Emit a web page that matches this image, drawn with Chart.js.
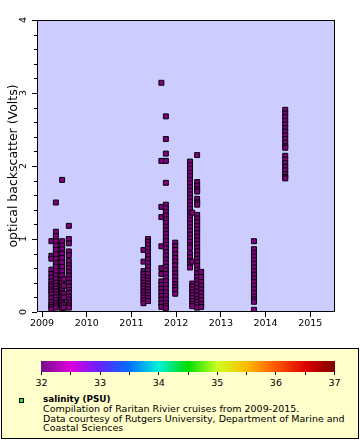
<!DOCTYPE html>
<html>
<head>
<meta charset="utf-8">
<script src="https://cdn.jsdelivr.net/npm/chart.js@4/dist/chart.umd.min.js"></script>
<style>
  html, body { margin:0; padding:0; background:#fff; }
  body { width:360px; height:440px; position:relative; overflow:hidden; font-family:"DejaVu Sans", sans-serif; }
  #wrap { position:absolute; left:0; top:0; width:360px; height:345px; }
  #legend { position:absolute; left:1px; top:348px; width:356px; height:89px; border:1px solid #000; background:#FFFFCC; box-sizing:content-box; }
  #cbar { position:absolute; left:41px; top:361px; width:294px; height:11px; }
  .cbtick { position:absolute; top:372px; width:1px; height:3px; background:#000; }
  .cblab { position:absolute; top:377px; width:30px; margin-left:-15px; text-align:center; font-size:9.5px; line-height:11px; color:#000; }
  #marker { position:absolute; left:19px; top:398px; width:3px; height:3px; border:1px solid #000; background:#22ee22; }
  #ltext { position:absolute; left:43px; top:394px; font-size:9.5px; line-height:9.3px; color:#000; white-space:nowrap; }
  #ltext b { font-size:8.8px; }
</style>
</head>
<body>
<div id="wrap"><canvas id="c"></canvas></div>
<div id="legend"></div>
<div id="cbar"></div>
<div id="marker"></div>
<div id="ltext"><b>salinity (PSU)</b><br>Compilation of Raritan Rivier cruises from 2009-2015.<br>Data courtesy of Rutgers University, Department of Marine and<br>Coastal Sciences</div>
<script>
// ---- data (decimal year of each cruise column, optical backscatter in Volts) ----
const cruiseTimes = [2009.21, 2009.31, 2009.45, 2009.49, 2009.60,
                     2011.27, 2011.37, 2011.67, 2011.77, 2011.98,
                     2012.31, 2012.36, 2012.47, 2012.56,
                     2013.74, 2014.44];
const c2009a = [0.97, 0.77, 0.73, 0.58, 0.52, 0.47, 0.42, 0.38, 0.35, 0.31, 0.28, 0.24, 0.19, 0.14, 0.10, 0.07, 0.04];
const c2009b = [1.50, 1.10, 1.04, 0.97, 0.91, 0.85, 0.79, 0.73, 0.67, 0.62, 0.56, 0.50, 0.45, 0.40, 0.36, 0.32, 0.28, 0.24, 0.20, 0.16, 0.12, 0.09, 0.06];
const c2009c = [1.81, 0.97, 0.91, 0.86, 0.80, 0.74, 0.68, 0.62, 0.56, 0.50, 0.44, 0.40, 0.35, 0.30, 0.26, 0.21, 0.17, 0.12, 0.08, 0.05];
const c2009d = [0.45, 0.36, 0.25, 0.20, 0.10, 0.06];
const c2009e = [1.18, 1.00, 0.94, 0.83, 0.78, 0.70, 0.64, 0.60, 0.55, 0.50, 0.45, 0.40, 0.35, 0.30, 0.26, 0.21, 0.17, 0.13, 0.09, 0.06];
const c2011a = [0.85, 0.69, 0.56, 0.52, 0.48, 0.44, 0.40, 0.36, 0.32, 0.28, 0.24, 0.20, 0.16, 0.12];
const c2011b = [1.00, 0.96, 0.92, 0.87, 0.82, 0.77, 0.72, 0.67, 0.62, 0.57, 0.52, 0.47, 0.43, 0.39, 0.35, 0.31, 0.27, 0.23, 0.19, 0.15];
const c2011c = [3.14, 2.07, 1.44, 1.30, 0.90, 0.60, 0.52, 0.42, 0.37, 0.32, 0.27, 0.22, 0.17, 0.12, 0.07];
const c2011d = [2.68, 2.37, 2.17, 2.07, 1.77, 1.47, 1.42, 1.37, 1.32, 1.27, 1.22, 1.17, 1.12, 1.07, 1.02, 0.97, 0.92, 0.87, 0.82, 0.77, 0.72, 0.67, 0.62, 0.57, 0.52, 0.47, 0.42, 0.37, 0.32, 0.27, 0.22, 0.17, 0.12, 0.08, 0.05];
const c2011e = [0.95, 0.90, 0.85, 0.79, 0.74, 0.69, 0.64, 0.58, 0.53, 0.48, 0.43, 0.38, 0.34, 0.30, 0.25];
const c2012a = [2.06, 2.01, 1.96, 1.91, 1.86, 1.81, 1.76, 1.71, 1.66, 1.61, 1.56, 1.51, 1.46, 1.41, 1.36, 1.31, 1.26, 1.21, 1.16, 1.11, 1.06, 1.01, 0.96, 0.91, 0.88, 0.80, 0.75, 0.70, 0.65, 0.61];
const c2012b = [1.36, 0.69, 0.39, 0.35, 0.31, 0.27, 0.23, 0.19, 0.15, 0.11, 0.08];
const c2012c = [2.15, 1.78, 1.73, 1.68, 1.65, 1.55, 1.50, 1.47, 1.33, 1.28, 1.23, 1.18, 1.13, 1.08, 1.03, 0.98, 0.93, 0.88, 0.83, 0.78, 0.73, 0.68, 0.63, 0.58, 0.53, 0.48, 0.43, 0.38, 0.33, 0.28, 0.23, 0.18, 0.14, 0.10, 0.06];
const c2012d = [0.55, 0.48, 0.41, 0.36, 0.31, 0.26, 0.21, 0.16, 0.11, 0.07];
const c2013a = [0.97, 0.86, 0.81, 0.76, 0.71, 0.66, 0.61, 0.56, 0.51, 0.46, 0.41, 0.36, 0.31, 0.26, 0.21, 0.17, 0.14, 0.03];
const c2014a = [2.77, 2.72, 2.67, 2.62, 2.57, 2.52, 2.47, 2.42, 2.37, 2.32, 2.27, 2.25, 2.14, 2.09, 2.04, 1.99, 1.94, 1.89, 1.85, 1.83];
const cruiseValues = [c2009a, c2009b, c2009c, c2009d, c2009e, c2011a, c2011b, c2011c, c2011d, c2011e, c2012a, c2012b, c2012c, c2012d, c2013a, c2014a];

const xTickValues = [2009, 2010, 2011, 2012, 2013, 2014, 2015];
const yTickValues = [0, 1, 2, 3, 4];
const cbLabels = [32, 33, 34, 35, 36, 37];
const cbColors = ['#74108c', '#dd00dd', '#6622ff', '#0070ff', '#00f0d8', '#00dd00', '#ccff22', '#ffbb00', '#ff5500', '#dd0000', '#800000'];

// ---- colour bar (legend) ----
const cbar = document.getElementById('cbar');
cbar.style.background = 'linear-gradient(to right,' + cbColors.join(',') + ')';
const cbMin = cbLabels[0], cbMax = cbLabels[cbLabels.length - 1];
for (let k = 0; k <= (cbMax - cbMin) * 2; k++) {
  const v = cbMin + k / 2;
  const px = 41 + (v - cbMin) / (cbMax - cbMin) * 293;
  const t = document.createElement('div'); t.className = 'cbtick'; t.style.left = px + 'px';
  document.body.appendChild(t);
}
cbLabels.forEach(v => {
  const px = 41.5 + (v - cbMin) / (cbMax - cbMin) * 293;
  const l = document.createElement('div'); l.className = 'cblab'; l.style.left = px + 'px'; l.textContent = v;
  document.body.appendChild(l);
});

// ---- chart ----
const points = [];
cruiseTimes.forEach((t, i) => cruiseValues[i].forEach(v => points.push({x: t, y: v})));

const plotDeco = {
  id: 'plotDeco',
  beforeDraw(chart) {
    const {ctx, chartArea: a} = chart;
    ctx.save();
    ctx.fillStyle = '#CCCCFF';
    ctx.fillRect(a.left, a.top, a.right - a.left, a.bottom - a.top);
    ctx.restore();
  },
  afterDraw(chart) {
    const {ctx, chartArea: a} = chart;
    const ys = chart.scales.y;
    ctx.save();
    ctx.strokeStyle = '#000'; ctx.lineWidth = 1;
    ctx.strokeRect(Math.round(a.left) + 0.5, Math.round(a.top) + 0.5, Math.round(a.right - a.left) - 1, Math.round(a.bottom - a.top) - 1);
    // minor ticks on y
    ctx.beginPath();
    for (let k = 0; k <= 20; k++) {
      if (k % 5 === 0) continue;
      const py = Math.round(ys.getPixelForValue(k * 0.2)) + 0.5;
      ctx.moveTo(a.left - 3, py); ctx.lineTo(a.left, py);
    }
    ctx.stroke();
    // rotated y tick labels
    ctx.fillStyle = '#000';
    ctx.font = '9.5px "DejaVu Sans"';
    ctx.textAlign = 'center'; ctx.textBaseline = 'middle';
    yTickValues.forEach(v => {
      const py = ys.getPixelForValue(v);
      ctx.save(); ctx.translate(24, py); ctx.rotate(-Math.PI / 2);
      ctx.fillText(String(v), 0, 0); ctx.restore();
    });
    ctx.restore();
  }
};

new Chart(document.getElementById('c'), {
  type: 'scatter',
  data: { datasets: [{
    data: points,
    pointStyle: 'rect',
    pointRadius: 3.5,
    pointHoverRadius: 3.5,
    backgroundColor: '#800080',
    borderColor: '#000',
    borderWidth: 1
  }]},
  options: {
    responsive: true, maintainAspectRatio: false, animation: false,
    devicePixelRatio: 1,
    layout: { padding: { top: 20, right: 25, left: 0, bottom: 0 } },
    plugins: { legend: { display: false }, tooltip: { enabled: false } },
    scales: {
      x: {
        type: 'linear', min: 2008.888, max: 2015.553,
        afterBuildTicks: s => { s.ticks = xTickValues.map(v => ({value: v})); },
        afterFit: s => { s.height = 33; },
        grid: { display: true, drawOnChartArea: false, drawTicks: true, tickLength: 5, color: '#000', tickColor: '#000' },
        border: { display: false },
        ticks: { color: '#000', font: { family: 'DejaVu Sans', size: 9.5 }, padding: 1, maxRotation: 0, callback: v => String(v) }
      },
      y: {
        type: 'linear', min: 0, max: 4,
        afterBuildTicks: s => { s.ticks = yTickValues.map(v => ({value: v})); },
        afterFit: s => { s.width = 37; },
        grid: { display: true, drawOnChartArea: false, drawTicks: true, tickLength: 5, color: '#000', tickColor: '#000' },
        border: { display: false },
        ticks: { color: 'rgba(0,0,0,0)', font: { family: 'DejaVu Sans', size: 9.5 } },
        title: { display: true, text: 'optical backscatter (Volts)', color: '#000', font: { family: 'DejaVu Sans', size: 12.5 }, padding: { top: 6, bottom: 0 } }
      }
    }
  },
  plugins: [plotDeco]
});
</script>
</body>
</html>
